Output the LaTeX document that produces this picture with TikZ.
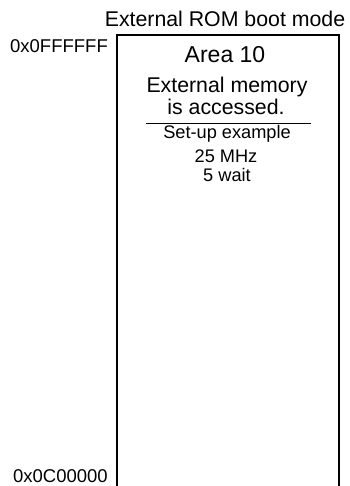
\documentclass[tikz,border=0pt]{standalone}
\usepackage{fontspec}
\setmainfont{Liberation Sans}
\begin{document}
\begin{tikzpicture}[x=1pt,y=-1pt,
        addr/.style={anchor=base east, inner sep=0pt, font=\fontsize{18.5}{20}\selectfont},
        big/.style={anchor=base, inner sep=0pt, font=\fontsize{21.3}{24}\selectfont},
        small/.style={anchor=base, inner sep=0pt, font=\fontsize{18.2}{20}\selectfont}
    ]
        \useasboundingbox (0,0) rectangle (349,486);
        % Memory area outline (open at the bottom)
        \coordinate (bl) at (117,486);
        \coordinate (tl) at (117,35);
        \coordinate (tr) at (339,35);
        \coordinate (br) at (339,486);
        \draw[line width=1.1pt] (bl) -- (tl) -- (tr) -- (br);

        % Title
        \node[big] (title) at (225,27) {External ROM boot mode};

        % Addresses
        \node[addr] (top) at (108,53) {0x0FFFFFF};
        \node[addr] (bottom) at (108,482) {0x0C00000};

        % Area description
        \node[big, font=\fontsize{23}{26}\selectfont] (area) at (225,63) {Area 10};
        \node[big] (ext) at (227,93) {External memory};
        \node[big] (acc) at (226,115) {is accessed.};
        \coordinate (sl) at (146,123);
        \coordinate (sr) at (311,123);
        \draw[line width=0.8pt] (sl) -- (sr);

        % Set-up example
        \node[small] (setup) at (227,139) {Set-up example};
        \node[small] (freq) at (226,163) {25 MHz};
        \node[small] (wait) at (227,182) {5 wait};
\end{tikzpicture}
\end{document}
